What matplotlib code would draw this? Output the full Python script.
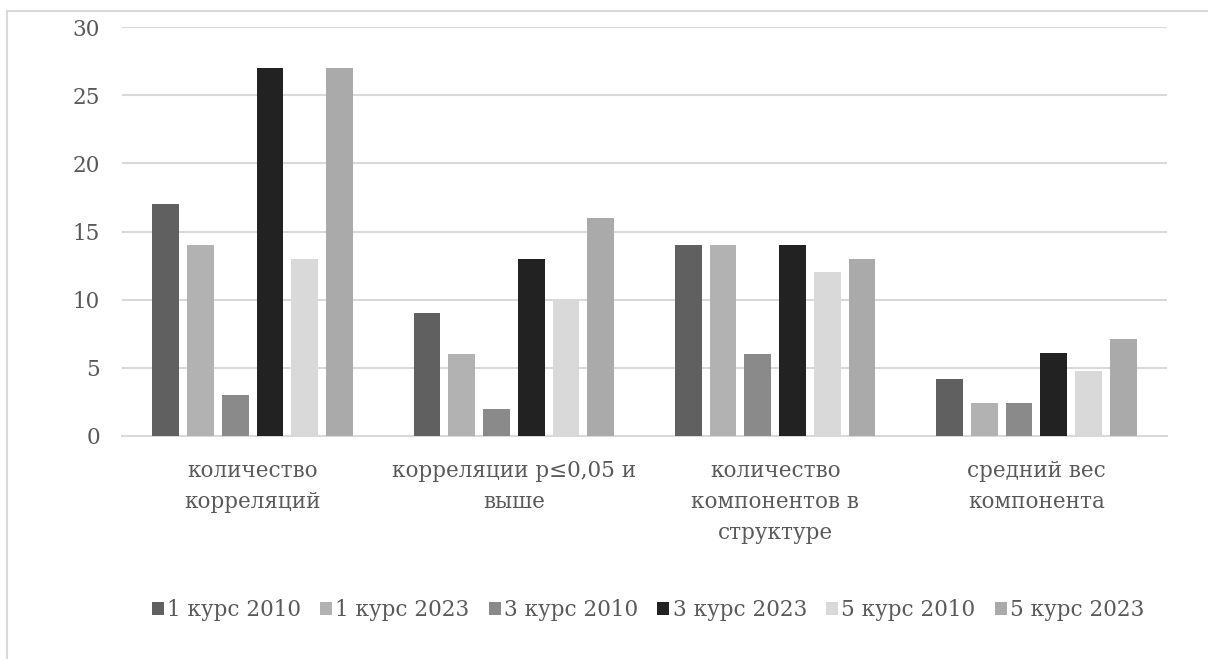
import matplotlib
matplotlib.use("Agg")
import matplotlib.pyplot as plt
from matplotlib.patches import Rectangle
import numpy as np

categories = [
    "количество\nкорреляций",
    "корреляции p≤0,05 и\nвыше",
    "количество\nкомпонентов в\nструктуре",
    "средний вес\nкомпонента",
]
series_names = ["1 курс 2010", "1 курс 2023", "3 курс 2010",
                "3 курс 2023", "5 курс 2010", "5 курс 2023"]
kurs1_2010 = [17, 9, 14, 4.2]
kurs1_2023 = [14, 6, 14, 2.4]
kurs3_2010 = [3, 2, 6, 2.4]
kurs3_2023 = [27, 13, 14, 6.1]
kurs5_2010 = [13, 10, 12, 4.8]
kurs5_2023 = [27, 16, 13, 7.1]
series_values = [kurs1_2010, kurs1_2023, kurs3_2010,
                 kurs3_2023, kurs5_2010, kurs5_2023]
colors = ["#606060", "#b2b2b2", "#8a8a8a", "#222222", "#d9d9d9", "#aaaaaa"]
y_ticks = [0, 5, 10, 15, 20, 25, 30]

plt.rcParams["font.family"] = ["DejaVu Serif"]
text_color = "#595959"
grid_color = "#d9d9d9"

W, H = 1208, 659
fig = plt.figure(figsize=(W / 100, H / 100), dpi=100)
ax = fig.add_axes([122 / W, 1 - 436 / H, (1167 - 122) / W, (436 - 27) / H])

# outer chart frame
fig.patches.append(Rectangle((7 / W, -0.1), 1.2, 1 - 11 / H + 0.1,
                             transform=fig.transFigure, fill=False,
                             edgecolor=grid_color, linewidth=1.5))

x = np.arange(len(categories))
pitch = 0.133
width = 0.103
offsets = (np.arange(len(series_names)) - (len(series_names) - 1) / 2) * pitch
for name, vals, col, off in zip(series_names, series_values, colors, offsets):
    ax.bar(x + off, vals, width=width, color=col, label=name, zorder=3)

ax.set_xlim(-0.5, len(categories) - 0.5)
ax.set_ylim(0, 30)
ax.set_yticks(y_ticks)
ax.set_yticklabels([str(t) for t in y_ticks])
ax.yaxis.grid(True, color=grid_color, linewidth=1.5, zorder=0)
ax.set_axisbelow(True)
for s in ["top", "right", "left"]:
    ax.spines[s].set_visible(False)
ax.spines["bottom"].set_color(grid_color)
ax.spines["bottom"].set_linewidth(1.5)
ax.tick_params(axis="both", length=0, colors=text_color, labelsize=15.5)
ax.tick_params(axis="y", pad=16)
ax.tick_params(axis="x", pad=17)
ax.set_xticks(x)
ax.set_xticklabels(categories, linespacing=1.55)

leg = fig.legend(loc="center", bbox_to_anchor=(648 / W, 1 - 610 / H), ncol=6,
                 frameon=False, fontsize=15.5, handlelength=0.55, handleheight=0.55,
                 handletextpad=0.15, columnspacing=0.9, labelcolor=text_color)

fig.savefig("out.png", dpi=100, facecolor="white")
